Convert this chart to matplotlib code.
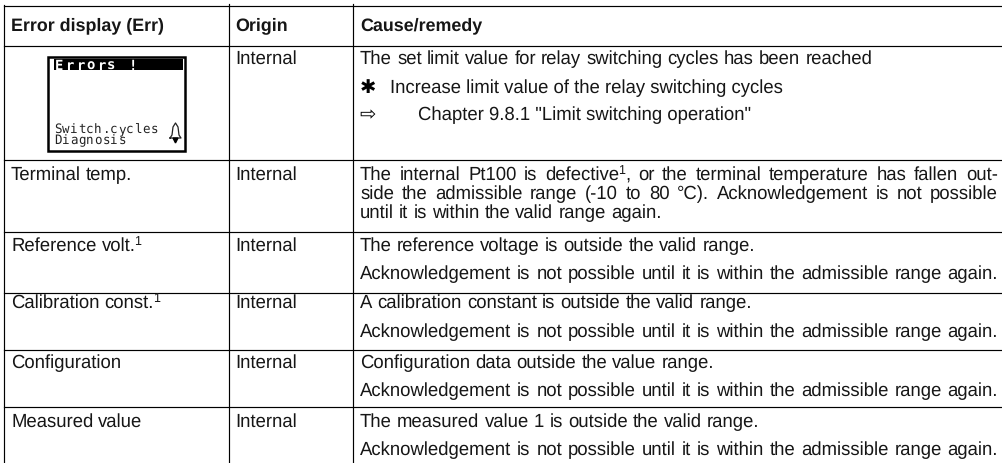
import matplotlib
matplotlib.use("Agg")
import matplotlib.pyplot as plt
from matplotlib.patches import Rectangle

plt.rcParams['font.family'] = ['Liberation Sans', 'DejaVu Sans']
plt.rcParams['text.hinting'] = 'no_hinting'

headers = ["Error display (Err)", "Origin", "Cause/remedy"]
col1 = ["", "Terminal temp.", "Reference volt.^1", "Calibration const.^1", "Configuration", "Measured value"]
col2 = ["Internal"] * 6
ack = "Acknowledgement is not possible until it is within the admissible range again."
remedy = [
    ["The set limit value for relay switching cycles has been reached"],
    ["The internal Pt100 is defective^1, or the terminal temperature has fallen out-",
     "side the admissible range (-10 to 80 °C). Acknowledgement is not possible",
     "until it is within the valid range again."],
    ["The reference voltage is outside the valid range.", ack],
    ["A calibration constant is outside the valid range.", ack],
    ["Configuration data outside the value range.", ack],
    ["The measured value 1 is outside the valid range.", ack],
]
bullet_text = "Increase limit value of the relay switching cycles"
chapter_text = 'Chapter 9.8.1 "Limit switching operation"'

# table geometry and text baselines
col_lines = [4, 229.5, 353]
row_lines = [6.5, 46.5, 160.5, 232.5, 293.5, 351, 408]
row_base = [64, 180, 251, 308, 368, 427]
remedy_base = [[64], [180, 199, 218], [251, 279], [308, 337], [368, 396], [427, 455]]
justified = [(1, 0), (1, 1), (2, 1), (3, 1), (4, 1), (5, 1)]

fs = 13.36
fs_bold = 12.9
ink = "#161616"
tx = [11, 235, 360]
right = 998

fig = plt.figure(figsize=(10.02, 4.64), dpi=100)
ax = fig.add_axes([0, 0, 1, 1])
ax.set_xlim(0, 1002)
ax.set_ylim(464, 0)
ax.axis("off")
renderer = fig.canvas.get_renderer()


def put(x, y, s, size=fs):
    t = ax.text(x, y, s, fontsize=size, va="baseline", color=ink)
    return t.get_window_extent(renderer).width


def width_of(s, size=fs):
    t = ax.text(0, 0, s, fontsize=size)
    w = t.get_window_extent(renderer).width
    t.remove()
    return w


def word_width(word):
    if "^1" not in word:
        return width_of(word)
    a, b = word.split("^1")
    return width_of(a) - 1 + width_of("1", 9) + (width_of(b) if b else 0)


def put_word(x, y, word):
    if "^1" not in word:
        put(x, y, word)
        return
    a, b = word.split("^1")
    x += put(x, y, a) - 1
    x += put(x, y - 6, "1", 9)
    if b:
        put(x, y, b)


def put_line(x, y, line, stretch=False):
    words = line.split(" ")
    space = width_of("a b") - width_of("a") - width_of("b")
    if stretch:
        total = sum(word_width(w) for w in words)
        space = (right - x - total) / (len(words) - 1)
    for w in words:
        put_word(x, y, w)
        x += word_width(w) + space


for x in col_lines:
    top = 6 if x == col_lines[0] else 5
    ax.plot([x, x], [top, 464], color="black", lw=0.85)
for y in row_lines:
    ax.plot([col_lines[0], 1002], [y, y], color="black", lw=0.85)

for x, h in zip(tx, headers):
    ax.text(x, 30, h, fontsize=fs_bold, fontweight="bold", va="baseline", color=ink)

for y, a, b in zip(row_base, col1, col2):
    if a:
        put_line(tx[0], y, a)
    put(tx[1], y, b)
for i, (lines, ys) in enumerate(zip(remedy, remedy_base)):
    for j, (s, y) in enumerate(zip(lines, ys)):
        put_line(tx[2], y, s, (i, j) in justified)

# remedy bullets of the first row
ax.text(368, 93, "✱", fontsize=14, ha="center", va="baseline", color="black", family=["DejaVu Sans"])
put(390, 93, bullet_text)
ax.text(367.5, 120, "⇨", fontsize=14, ha="center", va="baseline", color="black", family=["DejaVu Sans"])
put(418, 120, chapter_text)

# small display screenshot
ax.add_patch(Rectangle((48, 58), 137.5, 93.5, fill=False, ec="black", lw=1.8))
ax.add_patch(Rectangle((54, 60), 129, 11, fc="black", ec="none"))
for i, ch in enumerate("Errors !"):
    ax.text(59 + i * 10.5, 69.5, ch, fontsize=10, ha="center", va="baseline", family="DejaVu Sans Mono",
            fontweight="bold", color="white")
for i, ch in enumerate("Switch.cycles"):
    ax.text(58 + i * 8, 133, ch, fontsize=9, ha="center", va="baseline", family="DejaVu Sans Mono", color="#222222")
for i, ch in enumerate("Diagnosis"):
    ax.text(58 + i * 8, 144, ch, fontsize=9, ha="center", va="baseline", family="DejaVu Sans Mono", color="#222222")
bell_x = [170, 172, 173, 175.5, 178, 179, 181, 170]
bell_y = [139, 136, 128, 124, 128, 136, 139, 139]
ax.plot(bell_x, bell_y, color="#222222", lw=0.9)
ax.plot([175.5], [141], marker="v", ms=3.5, color="black")

fig.savefig("out.png", dpi=100)
